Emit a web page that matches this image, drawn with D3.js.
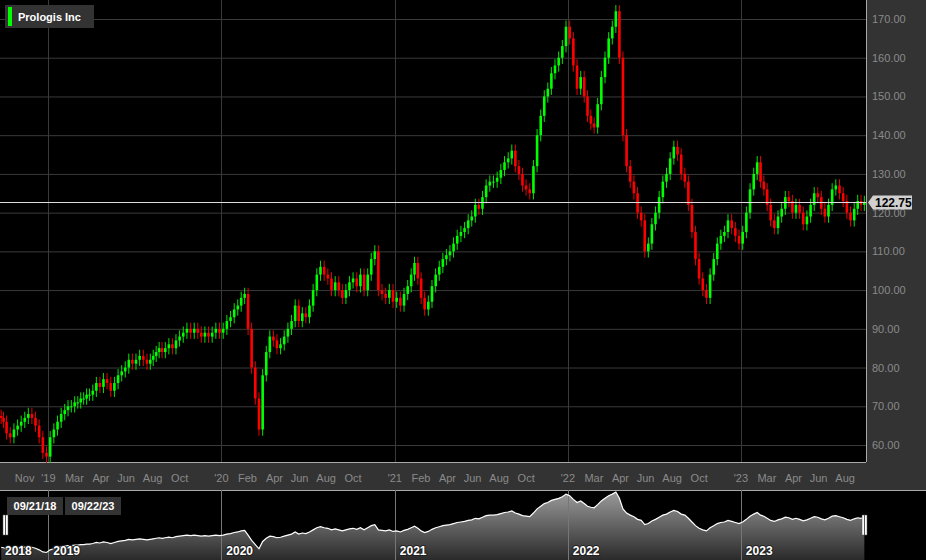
<!DOCTYPE html>
<html>
<head>
<meta charset="utf-8">
<script src="https://cdn.jsdelivr.net/npm/d3@7"></script>
<style>
  body { margin: 0; background: #000; }
  svg { display: block; font-family: Arial, "Liberation Sans", sans-serif; }
</style>
</head>
<body>
<div id="chart"></div>
<script>
const title = "Prologis Inc";
const lastPrice = 122.75;

// weekly closes grouped by month
const months = [
  "2018-09","2018-10","2018-11","2018-12",
  "2019-01","2019-02","2019-03","2019-04","2019-05","2019-06","2019-07","2019-08","2019-09","2019-10","2019-11","2019-12",
  "2020-01","2020-02","2020-03","2020-04","2020-05","2020-06","2020-07","2020-08","2020-09","2020-10","2020-11","2020-12",
  "2021-01","2021-02","2021-03","2021-04","2021-05","2021-06","2021-07","2021-08","2021-09","2021-10","2021-11","2021-12",
  "2022-01","2022-02","2022-03","2022-04","2022-05","2022-06","2022-07","2022-08","2022-09","2022-10","2022-11","2022-12",
  "2023-01","2023-02","2023-03","2023-04","2023-05","2023-06","2023-07","2023-08","2023-09"
];
const weeklyCloses = [
  [67, 66], [63, 62, 64, 65], [66, 67, 68, 67], [65, 62, 58, 57],
  [62, 64, 66, 68], [69, 70, 70, 71], [71, 72, 72, 73, 73], [74, 76, 75, 77], [76, 74, 76, 78], [79, 80, 82, 81],
  [82, 83, 82, 81], [82, 83, 84, 85, 84], [85, 86, 85, 87], [88, 89, 90, 89], [90, 89, 88, 89], [88, 89, 90, 89],
  [90, 92, 93, 95], [96, 98, 99, 90], [80, 72, 64, 78], [84, 88, 87, 85], [86, 88, 90, 92], [96, 92, 94, 93],
  [96, 100, 104, 106], [104, 103, 100, 102], [100, 98, 100, 102], [103, 101, 104, 100], [104, 108, 110, 100], [99, 98, 100, 97],
  [98, 96, 99, 101], [104, 107, 103, 98], [95, 97, 101, 104], [106, 108, 109, 110], [112, 114, 115, 116], [118, 119, 122, 121],
  [124, 127, 128, 128], [129, 131, 133, 134], [136, 132, 130, 127], [126, 125, 132, 140], [145, 150, 152, 156], [158, 160, 163, 168],
  [165, 158, 152, 155], [150, 145, 143, 142], [148, 155, 160, 165], [168, 172, 160, 140], [132, 128, 125, 120], [118, 110, 112, 117],
  [120, 124, 128, 130], [134, 137, 135, 130], [128, 122, 115, 108], [103, 100, 98, 104], [108, 112, 114, 115], [118, 116, 114, 112],
  [115, 120, 126, 130], [133, 128, 126, 122], [118, 116, 119, 121], [124, 123, 120, 122], [120, 117, 119, 122], [125, 124, 121, 119],
  [122, 126, 127, 125], [123, 120, 118, 121], [123, 122, 122.75]
];
const yTicks = [60, 70, 80, 90, 100, 110, 120, 130, 140, 150, 160, 170];
const xTickDates = [
  "2018-11-12","2019-01-01","2019-02-25","2019-04-22","2019-06-14","2019-08-09","2019-10-05",
  "2020-01-01","2020-02-25","2020-04-22","2020-06-14","2020-08-09","2020-10-05",
  "2021-01-01","2021-02-25","2021-04-22","2021-06-14","2021-08-09","2021-10-05",
  "2022-01-01","2022-02-25","2022-04-22","2022-06-14","2022-08-09","2022-10-05",
  "2023-01-01","2023-02-25","2023-04-22","2023-06-14","2023-08-09"
];
const xTickLabels = [
  "Nov","'19","Mar","Apr","Jun","Aug","Oct",
  "'20","Feb","Apr","Jun","Aug","Oct",
  "'21","Feb","Apr","Jun","Aug","Oct",
  "'22","Mar","Apr","Jun","Aug","Oct",
  "'23","Mar","Apr","Jun","Aug"
];
const years = ["2018","2019","2020","2021","2022","2023"];
const rangeLabels = ["09/21/18", "09/22/23"];

const W = 926, H = 560;
const plotW = 866, plotH = 462;
const parse = d3.timeParse("%Y-%m-%d");

// build candles: spread weeks through their month, open = previous close
const candles = [];
let prev = 67.5;
months.forEach((m, i) => {
  const start = parse(m + "-01");
  const end = d3.timeMonth.offset(start, 1);
  const w = weeklyCloses[i];
  w.forEach((c, j) => {
    let t0 = start, t1 = end;
    if (i === 0) t0 = parse("2018-09-21");
    if (i === months.length - 1) t1 = parse("2023-09-22");
    const date = new Date(+t0 + (t1 - t0) * (j + 0.5) / w.length);
    candles.push({ date, open: prev, close: c });
    prev = c;
  });
});

const x = d3.scaleTime()
  .domain([parse("2018-09-21"), parse("2023-09-22")])
  .range([0, plotW]);
const y = d3.scaleLinear().domain([170, 60]).range([19, 445]);

const svg = d3.select("#chart").append("svg").attr("width", W).attr("height", H);

svg.append("rect").attr("width", W).attr("height", H).attr("fill", "#333");
svg.append("rect").attr("width", plotW).attr("height", plotH).attr("fill", "#000");

// grid
svg.append("g").selectAll("line").data(yTicks).join("line")
  .attr("x1", 0).attr("x2", plotW)
  .attr("y1", (d) => y(d) + 0.5).attr("y2", (d) => y(d) + 0.5)
  .attr("stroke", "#3a3a3a");
svg.append("g").selectAll("line").data(years.slice(1)).join("line")
  .attr("x1", (d) => Math.round(x(parse(d + "-01-01"))) + 0.5)
  .attr("x2", (d) => Math.round(x(parse(d + "-01-01"))) + 0.5)
  .attr("y1", 0).attr("y2", plotH)
  .attr("stroke", "#3a3a3a");

// y axis labels
svg.append("g").selectAll("text").data(yTicks).join("text")
  .attr("x", 872).attr("y", (d) => y(d) + 4)
  .attr("fill", "#8a8a8a").attr("font-size", 11)
  .text((d) => d.toFixed(2));
svg.append("line").attr("x1", plotW + 0.5).attr("x2", plotW + 0.5)
  .attr("y1", 0).attr("y2", plotH).attr("stroke", "#aaa");

// x axis labels
svg.append("g").selectAll("text").data(xTickDates).join("text")
  .attr("x", (d) => x(parse(d))).attr("y", 482)
  .attr("text-anchor", "middle")
  .attr("fill", "#8a8a8a").attr("font-size", 11)
  .text((d, i) => xTickLabels[i]);
svg.append("line").attr("x1", 0).attr("x2", plotW)
  .attr("y1", plotH + 0.5).attr("y2", plotH + 0.5).attr("stroke", "#aaa");

// candles
const bw = 2.6;
const cg = svg.append("g");
cg.selectAll("line").data(candles).join("line")
  .attr("x1", (d) => x(d.date)).attr("x2", (d) => x(d.date))
  .attr("y1", (d) => y(Math.max(d.open, d.close) + 1.6))
  .attr("y2", (d) => y(Math.min(d.open, d.close) - 1.6))
  .attr("stroke", (d) => (d.close >= d.open ? "#00e600" : "#e60000"))
  .attr("stroke-width", 1);
cg.selectAll("rect").data(candles).join("rect")
  .attr("x", (d) => x(d.date) - bw / 2)
  .attr("width", bw)
  .attr("y", (d) => y(Math.max(d.open, d.close)))
  .attr("height", (d) => Math.max(1, Math.abs(y(d.open) - y(d.close))))
  .attr("fill", (d) => (d.close >= d.open ? "#00ff00" : "#ff0000"));

// last price line and tag
const yl = Math.round(y(lastPrice)) + 0.5;
svg.append("line").attr("x1", 0).attr("x2", plotW)
  .attr("y1", yl).attr("y2", yl).attr("stroke", "#ddd");
svg.append("path")
  .attr("d", `M868,${yl} L873,${yl - 7} L912,${yl - 7} L912,${yl + 7} L873,${yl + 7} Z`)
  .attr("fill", "#d0d0d0");
svg.append("text").attr("x", 875).attr("y", yl + 4.5)
  .attr("font-size", 12).attr("font-weight", "bold").attr("fill", "#000")
  .text(lastPrice.toFixed(2));

// legend
svg.append("rect").attr("x", 5).attr("y", 5).attr("width", 89).attr("height", 23).attr("fill", "#333");
svg.append("rect").attr("x", 8).attr("y", 7).attr("width", 4).attr("height", 19).attr("fill", "#00ff00");
svg.append("text").attr("x", 18).attr("y", 21).attr("fill", "#fff")
  .attr("font-size", 11).attr("font-weight", "bold").text(title);

// navigator
const navTop = 490, navBot = 560;
svg.append("rect").attr("x", 0).attr("y", navTop).attr("width", W).attr("height", navBot - navTop).attr("fill", "#000");
svg.append("line").attr("x1", 0).attr("x2", W).attr("y1", navTop + 0.5).attr("y2", navTop + 0.5).attr("stroke", "#aaa");
const ny = d3.scaleLinear().domain([56, 172]).range([553, 492]);
const grad = svg.append("defs").append("linearGradient")
  .attr("id", "navGrad").attr("x1", 0).attr("x2", 0).attr("y1", 0).attr("y2", 1);
grad.append("stop").attr("offset", "0%").attr("stop-color", "#9a9a9a");
grad.append("stop").attr("offset", "100%").attr("stop-color", "#2a2a2a");
svg.append("path").datum(candles)
  .attr("fill", "url(#navGrad)")
  .attr("d", d3.area().x((d) => x(d.date)).y0(navBot).y1((d) => ny(d.close)));
svg.append("g").selectAll("line").data(years.slice(1)).join("line")
  .attr("x1", (d) => Math.round(x(parse(d + "-01-01"))) + 0.5)
  .attr("x2", (d) => Math.round(x(parse(d + "-01-01"))) + 0.5)
  .attr("y1", navTop).attr("y2", navBot).attr("stroke", "#777");
svg.append("path").datum(candles)
  .attr("fill", "none").attr("stroke", "#fff").attr("stroke-width", 1.2)
  .attr("d", d3.line().x((d) => x(d.date)).y((d) => ny(d.close)));
svg.append("g").selectAll("text").data(years).join("text")
  .attr("x", (d, i) => (i === 0 ? 5 : x(parse(d + "-01-01")) + 5))
  .attr("y", 555)
  .attr("fill", "#fff").attr("stroke", "#222").attr("stroke-width", 2)
  .attr("paint-order", "stroke")
  .attr("font-size", 12).attr("font-weight", "bold").text((d) => d);

// range boxes and handles
rangeLabels.forEach((t, i) => {
  svg.append("rect").attr("x", 7 + i * 58).attr("y", 497).attr("width", 56).attr("height", 18).attr("fill", "#333");
  svg.append("text").attr("x", 35 + i * 58).attr("y", 510).attr("text-anchor", "middle")
    .attr("fill", "#fff").attr("font-size", 11).attr("font-weight", "bold").text(t);
});
[3, 862].forEach((hx) => {
  svg.append("rect").attr("x", hx).attr("y", 515).attr("width", 5).attr("height", 20)
    .attr("fill", "#fff").attr("stroke", "#555").attr("stroke-width", 0.5);
  svg.append("line").attr("x1", hx + 2.5).attr("x2", hx + 2.5).attr("y1", 515).attr("y2", 535).attr("stroke", "#555");
});
</script>
</body>
</html>
